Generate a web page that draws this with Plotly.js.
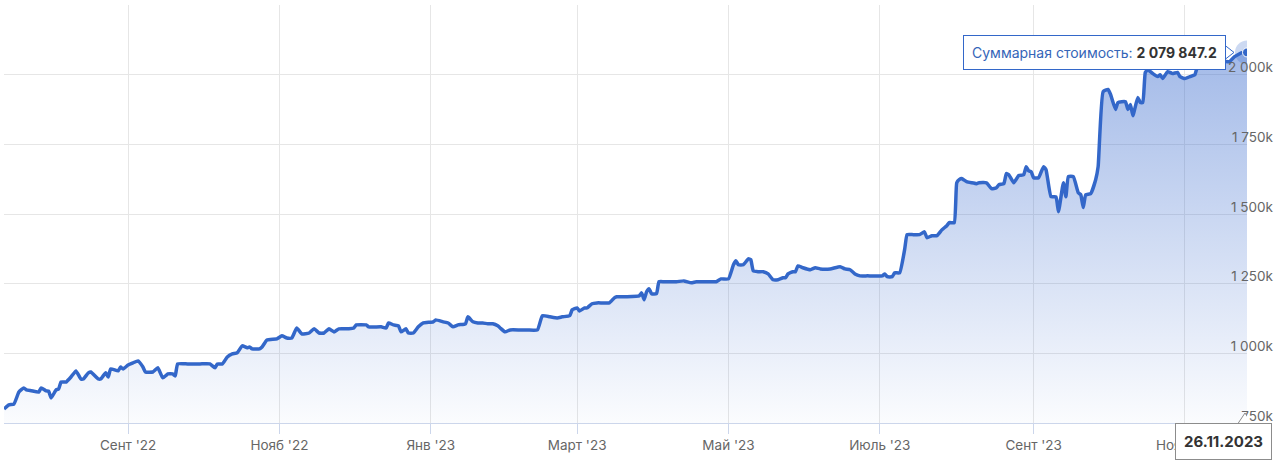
<!DOCTYPE html>
<html>
<head>
<meta charset="utf-8">
<script src="https://cdn.plot.ly/plotly-3.0.1.min.js"></script>
<style>
html,body{margin:0;padding:0;background:#fff;}
#chart{width:1280px;height:466px;}
</style>
</head>
<body>
<div id="chart"></div>
<script>
const dates = [
"2022-07-13","2022-07-15","2022-07-17","2022-07-19","2022-07-21","2022-07-22","2022-07-24","2022-07-27","2022-07-28","2022-07-30","2022-07-31",
"2022-08-01","2022-08-03","2022-08-04","2022-08-05","2022-08-07","2022-08-09","2022-08-11","2022-08-13","2022-08-14","2022-08-16","2022-08-17","2022-08-20","2022-08-21","2022-08-23","2022-08-24","2022-08-25","2022-08-28","2022-08-29","2022-08-30",
"2022-09-01","2022-09-03","2022-09-05","2022-09-07","2022-09-08","2022-09-11","2022-09-13","2022-09-15","2022-09-17","2022-09-19","2022-09-20","2022-09-21","2022-09-25","2022-09-30",
"2022-10-04","2022-10-06","2022-10-07","2022-10-09","2022-10-11","2022-10-13","2022-10-15","2022-10-17","2022-10-19","2022-10-20","2022-10-21","2022-10-24","2022-10-25","2022-10-27","2022-10-31",
"2022-11-02","2022-11-04","2022-11-06","2022-11-08","2022-11-10","2022-11-13","2022-11-15","2022-11-17","2022-11-19","2022-11-21","2022-11-23","2022-11-25","2022-11-29",
"2022-12-01","2022-12-02","2022-12-06","2022-12-07","2022-12-12","2022-12-14","2022-12-15","2022-12-17","2022-12-19","2022-12-20","2022-12-22","2022-12-23","2022-12-25","2022-12-27","2022-12-29",
"2023-01-02","2023-01-03","2023-01-06","2023-01-08","2023-01-10","2023-01-12","2023-01-15","2023-01-16","2023-01-18","2023-01-20","2023-01-22","2023-01-24","2023-01-26","2023-01-28","2023-01-29","2023-01-31",
"2023-02-02","2023-02-06","2023-02-09","2023-02-13","2023-02-15","2023-02-18","2023-02-21","2023-02-23","2023-02-26","2023-02-27",
"2023-03-01","2023-03-02","2023-03-04","2023-03-05","2023-03-07","2023-03-09","2023-03-11","2023-03-14","2023-03-16","2023-03-17","2023-03-21","2023-03-26","2023-03-27","2023-03-28","2023-03-29","2023-03-30","2023-03-31",
"2023-04-02","2023-04-03","2023-04-05","2023-04-10","2023-04-13","2023-04-16","2023-04-18","2023-04-21","2023-04-26","2023-04-28",
"2023-05-01","2023-05-03","2023-05-04","2023-05-05","2023-05-07","2023-05-09","2023-05-10","2023-05-11","2023-05-13","2023-05-15","2023-05-17","2023-05-19","2023-05-21","2023-05-23","2023-05-24","2023-05-25","2023-05-27","2023-05-28","2023-05-29","2023-05-31",
"2023-06-03","2023-06-05","2023-06-07","2023-06-11","2023-06-15","2023-06-17","2023-06-19","2023-06-21","2023-06-23","2023-06-26",
"2023-07-02","2023-07-03","2023-07-04","2023-07-06","2023-07-07","2023-07-09","2023-07-11","2023-07-12","2023-07-14","2023-07-17","2023-07-19","2023-07-20","2023-07-22","2023-07-24","2023-07-26","2023-07-28","2023-07-29","2023-07-31",
"2023-08-01","2023-08-02","2023-08-03","2023-08-05","2023-08-07","2023-08-09","2023-08-10","2023-08-13","2023-08-15","2023-08-17","2023-08-18","2023-08-20","2023-08-21","2023-08-22","2023-08-24","2023-08-26","2023-08-28","2023-08-29","2023-08-30","2023-08-31",
"2023-09-01","2023-09-03","2023-09-05","2023-09-06","2023-09-08","2023-09-10","2023-09-11","2023-09-13","2023-09-14","2023-09-15","2023-09-17","2023-09-19","2023-09-20","2023-09-21","2023-09-22","2023-09-24","2023-09-26","2023-09-27","2023-09-29",
"2023-10-01","2023-10-02","2023-10-04","2023-10-05","2023-10-08","2023-10-09","2023-10-10","2023-10-11","2023-10-13","2023-10-14","2023-10-15","2023-10-16","2023-10-17","2023-10-19","2023-10-21","2023-10-22","2023-10-23","2023-10-25","2023-10-27","2023-10-29","2023-10-30",
"2023-11-01","2023-11-03","2023-11-05","2023-11-06","2023-11-09","2023-11-12","2023-11-14","2023-11-17","2023-11-19","2023-11-21","2023-11-24","2023-11-26"
];
const totalValue = [
800000,815000,818000,861000,876000,869000,866000,861000,876000,865000,864000,
840000,869000,872000,897000,897000,915000,937000,908000,908000,930000,933000,908000,908000,930000,915000,944000,937000,951000,944000,
958000,966000,973000,951000,933000,933000,948000,912000,926000,926000,919000,962000,962000,962000,
962000,948000,962000,962000,987000,998000,1002000,1027000,1020000,1023000,1016000,1016000,1023000,1048000,1052000,
1063000,1055000,1055000,1091000,1070000,1073000,1088000,1073000,1073000,1088000,1077000,1088000,1088000,
1091000,1102000,1102000,1095000,1095000,1091000,1109000,1102000,1099000,1077000,1088000,1073000,1073000,1095000,1109000,
1113000,1120000,1113000,1109000,1095000,1102000,1106000,1131000,1113000,1109000,1109000,1106000,1106000,1099000,1091000,1077000,
1084000,1084000,1084000,1084000,1135000,1131000,1127000,1131000,1135000,1156000,
1163000,1152000,1163000,1163000,1178000,1181000,1181000,1181000,1199000,1203000,1203000,1206000,1217000,1192000,1221000,1232000,1214000,
1214000,1257000,1257000,1257000,1260000,1253000,1257000,1257000,1257000,1267000,
1267000,1318000,1332000,1318000,1318000,1339000,1336000,1296000,1293000,1293000,1285000,1264000,1264000,1271000,1271000,1285000,1293000,1293000,1314000,1307000,
1300000,1307000,1303000,1303000,1311000,1303000,1300000,1285000,1278000,1278000,
1278000,1285000,1275000,1275000,1289000,1289000,1372000,1426000,1426000,1426000,1436000,1415000,1422000,1422000,1443000,1458000,1469000,1469000,
1612000,1623000,1627000,1616000,1612000,1609000,1612000,1612000,1591000,1594000,1605000,1609000,1645000,1641000,1612000,1638000,1641000,1670000,1655000,1652000,
1630000,1630000,1670000,1659000,1562000,1562000,1508000,1612000,1562000,1634000,1634000,1576000,1569000,1523000,1569000,1573000,1623000,1670000,1939000,
1947000,1929000,1875000,1900000,1903000,1875000,1893000,1853000,1918000,1900000,1900000,2008000,2018000,2004000,1993000,2000000,1986000,2011000,2004000,2008000,1993000,
1986000,1993000,2000000,2026000,2025000,2040000,2047000,2047000,2047000,2065000,2079000,2079847.2
];
const xTickVals = ["2022-09-01","2022-11-01","2023-01-01","2023-03-01","2023-05-01","2023-07-01","2023-09-01","2023-11-01"];
const xTickText = ["Сент '22","Нояб '22","Янв '23","Март '23","Май '23","Июль '23","Сент '23","Нояб '23"];
const yTickVals = [750000,1000000,1250000,1500000,1750000,2000000,2250000];
const yTickText = ["750k","1 000k","1 250k","1 500k","1 750k","2 000k",""];
const seriesName = "Суммарная стоимость";
const hoverDateLabel = "26.11.2023";

const lastIdx = dates.length - 1;
const lastX = dates[lastIdx];
const lastY = totalValue[lastIdx];
const fmt = v => {
  const parts = v.toFixed(1).split(".");
  return parts[0].replace(/\B(?=(\d{3})+(?!\d))/g, " ") + "." + parts[1];
};

const lineColor = "#3367c9";
const traces = [
  {
    type: "scatter", mode: "lines", x: dates, y: totalValue, name: seriesName,
    line: {color: lineColor, width: 3.5, shape: "spline", smoothing: 0.4},
    fill: "tozeroy",
    fillgradient: {type: "vertical", start: 750000, stop: 2079847.2,
      colorscale: [[0, "rgba(51,102,204,0.02)"], [1, "rgba(51,102,204,0.45)"]]},
    hoverinfo: "skip"
  },
  {
    type: "scatter", mode: "markers", x: [lastX], y: [lastY],
    marker: {size: 24, color: "rgba(51,102,204,0.25)"}, hoverinfo: "skip"
  },
  {
    type: "scatter", mode: "markers", x: [lastX], y: [lastY],
    marker: {size: 9, color: lineColor, line: {color: "#ffffff", width: 1}}, hoverinfo: "skip"
  }
];

const layout = {
  width: 1280, height: 466,
  margin: {l: 4, r: 33, t: 5, b: 43},
  paper_bgcolor: "#ffffff", plot_bgcolor: "#ffffff",
  showlegend: false,
  hovermode: false,
  font: {family: "Inter, 'Open Sans', sans-serif", size: 13, color: "#666666"},
  xaxis: {
    type: "date",
    range: [dates[0], lastX],
    tickvals: xTickVals, ticktext: xTickText,
    showgrid: true, gridcolor: "#e6e6e6", gridwidth: 1,
    ticks: "outside", ticklen: 10, tickcolor: "#ccd6eb", tickwidth: 1,
    showline: true, linecolor: "#ccd6eb", linewidth: 1,
    zeroline: false,
    tickfont: {size: 13.5, color: "#666666"},
    fixedrange: true
  },
  yaxis: {
    range: [750000, 2250000],
    side: "right",
    tickvals: yTickVals, ticktext: yTickText,
    ticklabelposition: "inside",
    ticklabelstandoff: -29,
    ticklabelshift: -7,
    ticklabeloverflow: "allow",
    showgrid: true, gridcolor: "#e6e6e6", gridwidth: 1,
    zeroline: false, showline: false, ticks: "",
    tickfont: {size: 13.5, color: "#666666"},
    fixedrange: true
  },
  shapes: [
    {
      type: "path", layer: "above",
      xref: "x", yref: "y", xsizemode: "pixel", ysizemode: "pixel",
      xanchor: lastX, yanchor: lastY,
      path: "M -22,-7 L -13,0 L -22,7 Z",
      fillcolor: "#ffffff", line: {color: lineColor, width: 1}
    },
    {
      type: "path", layer: "above",
      xref: "x", yref: "paper", xsizemode: "pixel", ysizemode: "pixel",
      xanchor: lastX, yanchor: 0,
      path: "M -10,-2 L -2,10 L 6,-2 Z",
      fillcolor: "#ffffff", line: {color: "#8c8c8c", width: 1}
    }
  ],
  annotations: [
    {
      x: lastX, y: lastY, xref: "x", yref: "y",
      xanchor: "right", yanchor: "middle", xshift: -21,
      showarrow: false,
      text: "<span style='color:#3565b8'>" + seriesName + ": </span><b>" + fmt(lastY) + "</b>",
      font: {size: 14, color: "#333333"},
      bgcolor: "#ffffff", bordercolor: lineColor, borderwidth: 1, borderpad: 8
    },
    {
      x: lastX, y: 0, xref: "x", yref: "paper",
      xanchor: "right", yanchor: "top", xshift: 25, yshift: 0,
      showarrow: false,
      text: "<b>" + hoverDateLabel + "</b>",
      font: {size: 15, color: "#333333"},
      bgcolor: "#ffffff", bordercolor: "#8c8c8c", borderwidth: 1, borderpad: 8
    }
  ]
};

Plotly.newPlot("chart", traces, layout, {displayModeBar: false, staticPlot: true});
</script>
</body>
</html>
